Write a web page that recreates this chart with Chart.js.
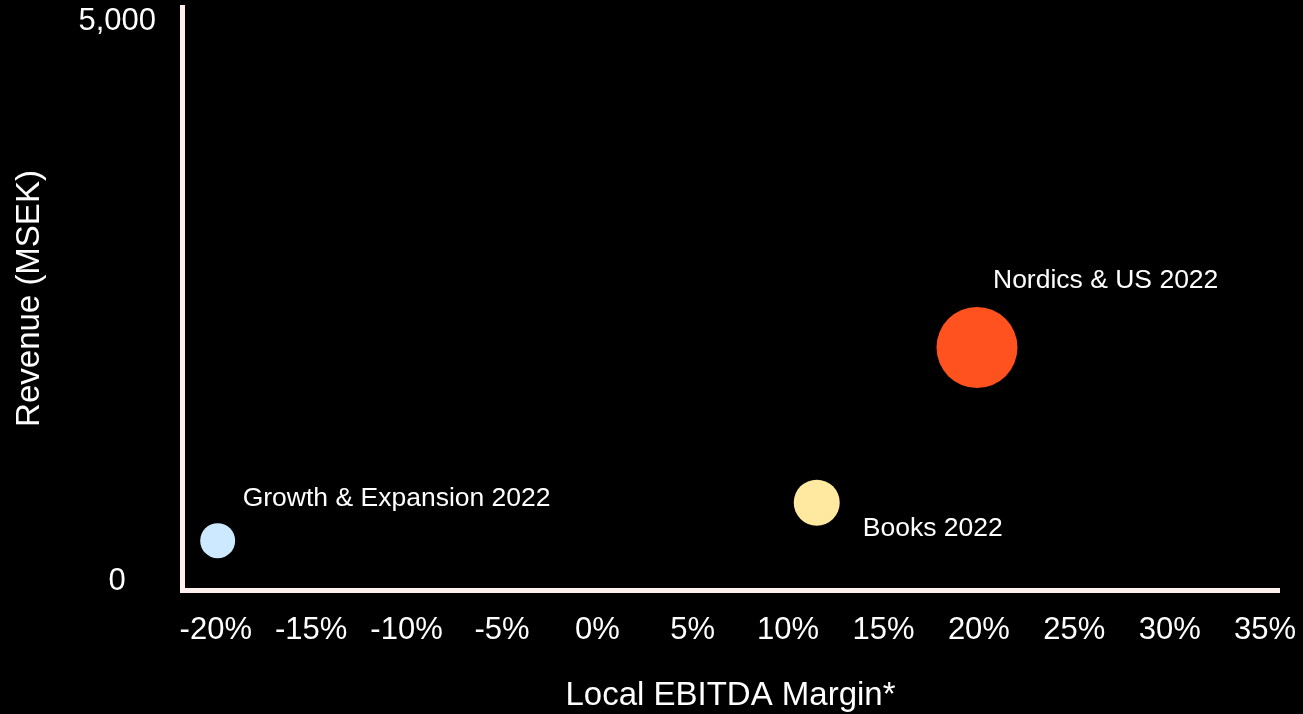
<!DOCTYPE html>
<html lang="en">
<head>
<meta charset="utf-8">
<title>Revenue vs Local EBITDA Margin</title>
<script src="https://cdn.jsdelivr.net/npm/chart.js@4.4.1/dist/chart.umd.min.js"></script>
<style>
    html, body { margin: 0; padding: 0; background: #000; }
    #chart-wrap { width: 1303px; height: 714px; position: relative; }
</style>
</head>
<body>
<div id="chart-wrap"><canvas id="bubbleChart"></canvas></div>
<script>
// ============================================
// DATA
// ============================================
const segments = ['Growth & Expansion 2022', 'Books 2022', 'Nordics & US 2022'];
const ebitdaMargin = [-19.9, 11.5, 19.9];      // % (x)
const revenueMsek = [360, 700, 2085];           // MSEK (y)
const bubbleSize = [17.5, 23, 40.5];            // bubble radius
const xTicks = [-20, -15, -10, -5, 0, 5, 10, 15, 20, 25, 30, 35];
const yTicks = [0, 5000];

// Styling (kept apart from data)
const bubbleColors = ['#CDE9FF', '#FFE8A0', '#FF521E'];
const labelOffsets = [[25, -35], [46, 33], [16, -60]];
const axisColor = '#FFF0F0';
const fontFamily = '"Liberation Sans", Arial, Helvetica, sans-serif';

document.addEventListener('DOMContentLoaded', function() {
    renderChart();
});

// Draw segment names next to each bubble
const bubbleLabels = {
    id: 'bubbleLabels',
    afterDatasetsDraw(chart) {
        const ctx = chart.ctx;
        const meta = chart.getDatasetMeta(0);
        ctx.save();
        ctx.fillStyle = '#fff';
        ctx.font = '26.5px ' + fontFamily;
        ctx.textAlign = 'left';
        ctx.textBaseline = 'alphabetic';
        meta.data.forEach((el, i) => {
            ctx.fillText(segments[i], el.x + labelOffsets[i][0], el.y + labelOffsets[i][1]);
        });
        ctx.restore();
    }
};

function renderChart() {
    const ctx = document.getElementById('bubbleChart');

    new Chart(ctx, {
        type: 'bubble',
        data: {
            labels: segments,
            datasets: [{
                data: segments.map((s, i) => ({ x: ebitdaMargin[i], y: revenueMsek[i], r: bubbleSize[i] })),
                backgroundColor: bubbleColors,
                borderWidth: 0,
                hoverBorderWidth: 0
            }]
        },
        options: {
            responsive: true,
            maintainAspectRatio: false,
            animation: false,
            layout: {
                autoPadding: false,
                padding: { top: 7, right: 24, left: 0, bottom: 0 }
            },
            plugins: {
                legend: { display: false },
                tooltip: { enabled: false }
            },
            scales: {
                x: {
                    type: 'linear',
                    min: -21.77,
                    max: 35.73,
                    grid: { display: false, drawTicks: false },
                    border: { display: true, color: axisColor, width: 5 },
                    afterBuildTicks: function(scale) {
                        scale.ticks = xTicks.map(v => ({ value: v }));
                    },
                    afterFit: function(scale) {
                        scale.height = 124;
                        scale.paddingLeft = 0;
                        scale.paddingRight = 0;
                    },
                    ticks: {
                        color: '#fff',
                        font: { family: fontFamily, size: 31 },
                        padding: 22,
                        autoSkip: false,
                        maxRotation: 0,
                        callback: function(value) {
                            return value + '%';
                        }
                    },
                    title: {
                        display: true,
                        text: 'Local EBITDA Margin*',
                        color: '#fff',
                        font: { family: fontFamily, size: 33 },
                        padding: { top: 0, bottom: -2 }
                    }
                },
                y: {
                    type: 'linear',
                    min: -80,
                    max: 5125,
                    grid: { display: false, drawTicks: false },
                    border: { display: true, color: axisColor, width: 5 },
                    afterBuildTicks: function(scale) {
                        scale.ticks = yTicks.map(v => ({ value: v }));
                    },
                    afterFit: function(scale) {
                        scale.width = 182;
                        scale.paddingTop = 0;
                        scale.paddingBottom = 0;
                    },
                    ticks: {
                        color: '#fff',
                        font: { family: fontFamily, size: 31 },
                        padding: 26,
                        crossAlign: 'center',
                        callback: function(value) {
                            return value.toLocaleString('en-US');
                        }
                    },
                    title: {
                        display: true,
                        text: 'Revenue (MSEK)',
                        color: '#fff',
                        font: { family: fontFamily, size: 33 },
                        padding: { top: 10, bottom: 0 }
                    }
                }
            }
        },
        plugins: [bubbleLabels]
    });
}
</script>
</body>
</html>
